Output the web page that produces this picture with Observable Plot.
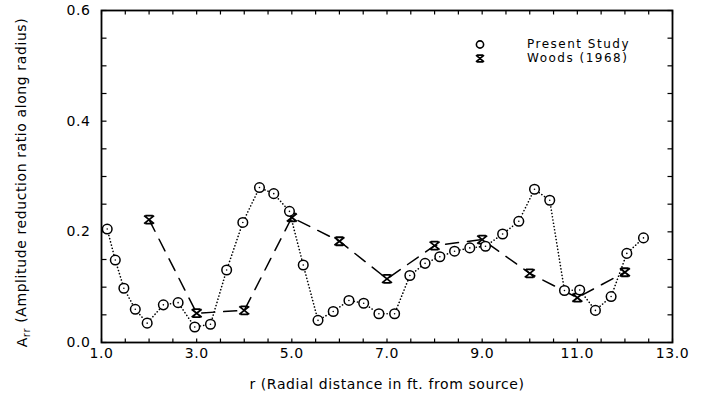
<!DOCTYPE html>
<html>
<head>
<meta charset="utf-8">
<script src="https://cdn.jsdelivr.net/npm/d3@7"></script>
<script src="https://cdn.jsdelivr.net/npm/@observablehq/plot@0.6"></script>
<style>
  html, body { margin: 0; padding: 0; background: #fff; }
  #wrap { position: relative; width: 707px; height: 407px; }
  #wrap svg text { letter-spacing: 0.6px; }
  #legend { position: absolute; left: 470px; top: 37px; font: 12px "DejaVu Sans", sans-serif; color: #000; letter-spacing: 1.5px; line-height: 14px; }
  #legend .row { display: flex; align-items: center; height: 14px; }
  #legend svg { width: 20px; height: 13px; margin-right: 37px; }
</style>
</head>
<body>
<div id="wrap"><div id="legend"></div></div>
<script>
// Present Study (circles, dotted)
const presentR = [1.12,1.29,1.47,1.71,1.96,2.30,2.61,2.96,3.29,3.63,3.97,4.32,4.62,4.95,5.24,5.55,5.87,6.20,6.51,6.83,7.16,7.48,7.80,8.11,8.42,8.74,9.07,9.43,9.77,10.10,10.42,10.73,11.05,11.38,11.71,12.04,12.39];
const presentA = [0.205,0.149,0.098,0.060,0.035,0.068,0.072,0.028,0.033,0.131,0.217,0.280,0.269,0.237,0.140,0.040,0.056,0.076,0.071,0.052,0.052,0.121,0.143,0.155,0.165,0.171,0.174,0.196,0.219,0.277,0.257,0.094,0.095,0.058,0.083,0.161,0.189];
// Woods (1968) (hourglass crosses, dashed)
const woodsR = [2,3,4,5,6,7,8,9,10,11,12];
const woodsA = [0.222,0.053,0.058,0.226,0.183,0.115,0.175,0.186,0.125,0.081,0.127];
// Axis ticks
const xTickLabels = [1,3,5,7,9,11,13];
const xMinorTicks = d3.range(1, 13.001, 0.5);
const yTickLabels = [0, 0.2, 0.4, 0.6];
const yMinorTicks = d3.range(0, 0.6001, 0.05);
const seriesNames = ["Present Study", "Woods (1968)"];
const yLabelText = "Arr (Amplitude reduction ratio along radius)";

const present = presentR.map((r, i) => ({r, a: presentA[i]}));
const woods = woodsR.map((r, i) => ({r, a: woodsA[i]}));

const hourglass = {
  draw(ctx, size) {
    const r = Math.sqrt(size / Math.PI);
    const w = r, h = r * 0.8;
    ctx.moveTo(-w, -h); ctx.lineTo(w, h);
    ctx.moveTo(w, -h); ctx.lineTo(-w, h);
    ctx.moveTo(-w * 0.75, -h); ctx.lineTo(w * 0.75, -h);
    ctx.moveTo(-w * 0.75, h); ctx.lineTo(w * 0.75, h);
  }
};
// inward tick glyphs (paths), length from the dot radius
const tickGlyph = (ux, uy) => ({
  draw(ctx, size) {
    const len = Math.sqrt(size / Math.PI);
    ctx.moveTo(0, 0); ctx.lineTo(ux * len, uy * len);
  }
});

const font = "DejaVu Sans";
const tickStyle = {r: 5, stroke: "#000", strokeWidth: 1.2, fill: "none"};
const chart = Plot.plot({
  width: 707,
  height: 407,
  marginLeft: 101,
  marginRight: 35,
  marginTop: 10,
  marginBottom: 65,
  style: {fontFamily: font, fontSize: "13px", color: "#000", background: "#fff", overflow: "visible"},
  x: {domain: [1, 13]},
  y: {domain: [0, 0.6]},
  marks: [
    Plot.frame({stroke: "#000", fill: "none", strokeWidth: 1.8}),
    Plot.axisX({anchor: "bottom", ticks: xTickLabels, tickSize: 0, tickPadding: 6, tickFormat: d3.format(".1f"), fontSize: 14,
      label: "r (Radial distance in ft. from source)", labelAnchor: "center", labelArrow: "none", labelOffset: 46}),
    Plot.axisY({anchor: "left", ticks: yTickLabels, tickSize: 0, tickPadding: 11, tickFormat: d3.format(".1f"), fontSize: 14,
      label: yLabelText, labelAnchor: "center", labelArrow: "none", labelOffset: 84}),
    // inward minor ticks on all four sides
    Plot.dot(xMinorTicks, {x: d => d, frameAnchor: "bottom", symbol: tickGlyph(0, -0.8), ...tickStyle}),
    Plot.dot(xMinorTicks, {x: d => d, frameAnchor: "top", symbol: tickGlyph(0, 0.8), ...tickStyle}),
    Plot.dot(yMinorTicks, {y: d => d, frameAnchor: "left", symbol: tickGlyph(1, 0), ...tickStyle}),
    Plot.dot(yMinorTicks, {y: d => d, frameAnchor: "right", symbol: tickGlyph(-1, 0), ...tickStyle}),
    Plot.line(woods, {x: "r", y: "a", stroke: "#000", strokeWidth: 1.5, strokeDasharray: "13,9"}),
    Plot.line(present, {x: "r", y: "a", stroke: "#000", strokeWidth: 1.6, strokeDasharray: "0.1,3.2", strokeLinecap: "round"}),
    Plot.dot(woods, {x: "r", y: "a", symbol: hourglass, r: 5, stroke: "#000", strokeWidth: 1.8, fill: "none"}),
    Plot.dot(present, {x: "r", y: "a", r: 4.8, stroke: "#000", strokeWidth: 1.5, fill: "#fff"}),
    Plot.dot(present, {x: "r", y: "a", r: 0.8, fill: "#000", stroke: null})
  ]
});

// subscript on the y label
d3.select(chart).selectAll("text").each(function() {
  const t = d3.select(this);
  if (t.text() === yLabelText) {
    t.text(null).attr("font-size", "14px").attr("dx", "-6");
    t.append("tspan").text("A");
    t.append("tspan").attr("dy", "0.3em").attr("font-size", "10px").text("rr");
    t.append("tspan").attr("dy", "-0.3em").text(" (Amplitude reduction ratio along radius)");
  }
});
document.getElementById("wrap").prepend(chart);

// legend
const legend = d3.select("#legend");
const icons = [
  `<svg viewBox="-10 -6.5 20 13"><circle r="3.6" fill="none" stroke="#000" stroke-width="1.6"/></svg>`,
  `<svg viewBox="-10 -6.5 20 13"><path d="M-4,-3.4L4,3.4M4,-3.4L-4,3.4M-3,-3.4L3,-3.4M-3,3.4L3,3.4" stroke="#000" stroke-width="1.8" fill="none"/></svg>`
];
seriesNames.forEach((name, i) => {
  const row = legend.append("div").attr("class", "row");
  row.html(icons[i]);
  row.append("span").text(name);
});
</script>
</body>
</html>
